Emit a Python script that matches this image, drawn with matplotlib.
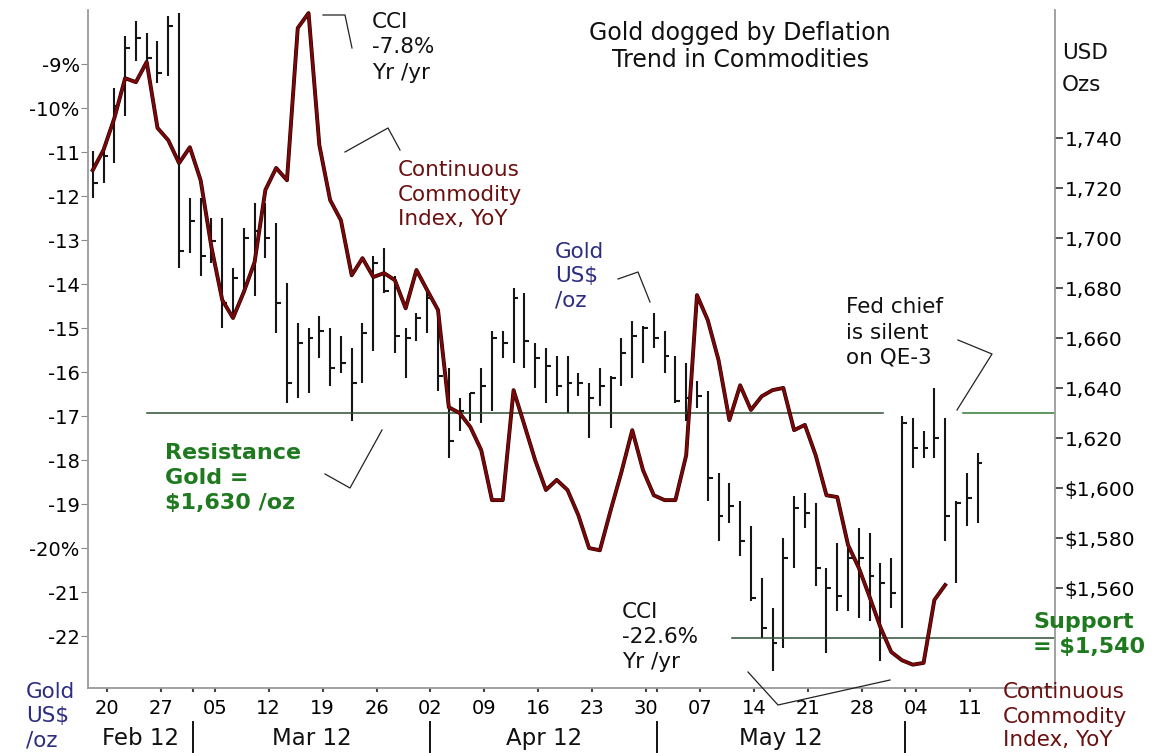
import matplotlib
matplotlib.use('Agg')
import matplotlib.pyplot as plt
import matplotlib.patheffects as pe
from matplotlib.lines import Line2D
from matplotlib.transforms import blended_transform_factory
import numpy as np

# gold bars, one per weekday, day index 0 = Mon Feb 20 2012 (first bar is Feb 17)
gold_high = [1735, 1736, 1760, 1781, 1787, 1782, 1779, 1789, 1790, 1716,
             1716, 1708, 1708, 1688, 1704, 1714, 1714, 1706, 1682, 1666,
             1664, 1669, 1664, 1661, 1656, 1666, 1693, 1696, 1685, 1664,
             1670, 1680, 1672, 1648, 1636, 1638, 1648, 1663, 1663, 1680,
             1678, 1658, 1656, 1653, 1653, 1646, 1642, 1648, 1645, 1660,
             1667, 1665, 1670, 1663, 1653, 1650, 1643, 1639, 1606, 1602,
             1595, 1585, 1564, 1552, 1580, 1597, 1598, 1594, 1568, 1578,
             1576, 1584, 1582, 1570, 1572, 1629, 1628, 1623, 1640, 1628,
             1595, 1606, 1614]
gold_low = [1716, 1722, 1730, 1749, 1771, 1768, 1762, 1765, 1688, 1694,
            1685, 1690, 1664, 1670, 1678, 1677, 1692, 1662, 1634, 1636,
            1638, 1652, 1641, 1646, 1627, 1642, 1655, 1678, 1654, 1644,
            1659, 1662, 1639, 1612, 1623, 1627, 1626, 1631, 1652, 1650,
            1648, 1640, 1634, 1637, 1630, 1637, 1620, 1633, 1624, 1641,
            1644, 1650, 1656, 1646, 1634, 1627, 1632, 1595, 1579, 1586,
            1573, 1555, 1540, 1527, 1536, 1568, 1584, 1561, 1534, 1551,
            1551, 1548, 1547, 1531, 1552, 1544, 1608, 1612, 1612, 1579,
            1562, 1585, 1586]
gold_close = [1722, 1733, 1753, 1776, 1780, 1772, 1766, 1785, 1695, 1707,
              1693, 1699, 1674, 1684, 1700, 1703, 1700, 1674, 1642, 1658,
              1660, 1663, 1648, 1650, 1642, 1662, 1690, 1679, 1661, 1660,
              1668, 1676, 1645, 1619, 1631, 1638, 1641, 1660, 1658, 1676,
              1659, 1652, 1649, 1641, 1642, 1642, 1636, 1641, 1644, 1654,
              1661, 1664, 1660, 1653, 1635, 1636, 1637, 1604, 1589, 1593,
              1579, 1556, 1544, 1538, 1572, 1592, 1590, 1568, 1560, 1557,
              1572, 1572, 1565, 1562, 1558, 1626, 1616, 1616, 1620, 1589,
              1594, 1596, 1610]

# Continuous Commodity Index, % yr/yr
cci = [-11.41, -10.95, -10.23, -9.32, -9.41, -8.95, -10.45, -10.73, -11.25, -10.89,
       -11.64, -13.16, -14.36, -14.77, -14.18, -13.50, -11.86, -11.36, -11.64, -8.18,
       -7.84, -10.84, -12.09, -12.55, -13.80, -13.41, -13.84, -13.75, -13.91, -14.55,
       -13.68, -14.14, -14.59, -16.80, -16.93, -17.25, -17.77, -18.91, -18.91, -16.41,
       -17.20, -18.00, -18.68, -18.45, -18.68, -19.25, -20.00, -20.05, -19.14, -18.27,
       -17.32, -18.23, -18.80, -18.91, -18.91, -17.89, -14.25, -14.82, -15.73, -17.09,
       -16.30, -16.86, -16.55, -16.41, -16.36, -17.32, -17.20, -17.89, -18.80, -18.84,
       -19.93, -20.45, -21.11, -21.80, -22.36, -22.55, -22.65, -22.61, -21.18, -20.84]

week_days = [0, 5, 10, 15, 20, 25, 30, 35, 40, 45, 50, 55, 60, 65, 70, 75, 80]
week_labels = ['20', '27', '05', '12', '19', '26', '02', '09', '16', '23',
               '30', '07', '14', '21', '28', '04', '11']
month_starts = [8, 30, 51, 74]
month_labels = ['Feb 12', 'Mar 12', 'Apr 12', 'May 12']

cci_ticks = list(range(-22, -8))
cci_ticklabels = ['-22', '-21', '-20%', '-19', '-18', '-17', '-16', '-15', '-14',
                  '-13', '-12', '-11', '-10%', '-9%']
gold_ticks = list(range(1560, 1741, 20))
gold_ticklabels = ['$1,560', '$1,580', '$1,600', '1,620', '1,640', '1,660',
                   '1,680', '1,700', '1,720', '1,740']

W, H = 1163, 753
def fx(x): return x / W
def fy(y): return 1 - y / H

plt.rcParams['font.family'] = 'DejaVu Sans'
fig = plt.figure(figsize=(W / 100, H / 100), dpi=100)
ax = fig.add_axes([fx(88), fy(688), (1055 - 88) / W, (688 - 10) / H])
ax2 = ax.twinx()
ax.set_zorder(ax2.get_zorder() + 1)
ax.patch.set_visible(False)

off = 0.3  # tick marks sit a bit right of the bars
gdays = np.arange(-1, -1 + len(gold_high))
ax2.vlines(gdays, gold_low, gold_high, color='#151515', lw=1.5)
ax2.hlines(gold_close, gdays, gdays + 0.45, color='#151515', lw=1.5)

# resistance / support lines
ax2.axhline(1630, xmin=(147 - 88) / 967, xmax=(883 - 88) / 967, color='#2f4f35', lw=1.1)
ax2.axhline(1630, xmin=(963 - 88) / 967, xmax=1, color='#2f7a35', lw=1.1)
ax2.axhline(1540, xmin=(732 - 88) / 967, xmax=1, color='#2f4f35', lw=1.1)

cdays = np.arange(-1, -1 + len(cci))
ax.plot(cdays, cci, color='#7a0808', lw=1.9,
        path_effects=[pe.Stroke(linewidth=2.8, foreground='#2a0000'), pe.Normal()])

ax.set_xlim(-1.44, 88.18)
ax.set_ylim(-23.18, -7.77)
ax2.set_ylim(1520, 1791.2)

for a in (ax, ax2):
    a.spines['top'].set_visible(False)
ax.spines['right'].set_visible(False)
ax2.spines['left'].set_visible(False)
ax2.spines['bottom'].set_visible(False)
ax.spines['left'].set_color('#9a9a9a')
ax.spines['bottom'].set_color('#9a9a9a')
ax2.spines['right'].set_color('#9a9a9a')
for s in (ax.spines['left'], ax.spines['bottom'], ax2.spines['right']):
    s.set_linewidth(1.3)

ax.set_yticks(cci_ticks)
ax.set_yticklabels(cci_ticklabels)
ax.tick_params(axis='y', direction='out', length=5, color='#8a8a8a', labelsize=14, pad=1)
ax2.set_yticks(gold_ticks)
ax2.set_yticklabels(gold_ticklabels)
ax2.tick_params(axis='y', direction='out', length=6, width=1.2, color='#333333',
                labelsize=14.5, pad=1)

ax.set_xticks([d + off for d in week_days])
ax.set_xticklabels(week_labels)
ax.set_xticks([d + off for d in month_starts], minor=True)
ax.tick_params(axis='x', which='both', direction='out', length=3, width=1.5,
               color='#444444', labelsize=14, pad=5)

trans = blended_transform_factory(ax.transData, ax.transAxes)
bounds = [-1.44] + [d + off for d in month_starts]
for i, lab in enumerate(month_labels):
    ax.text((bounds[i] + bounds[i + 1]) / 2, -0.074, lab, transform=trans,
            ha='center', va='center', fontsize=16.5, color='#111111')
for d in month_starts:
    ax.plot([d + off, d + off], [-0.05, -0.1], transform=trans, clip_on=False,
            color='#111111', lw=1.4)


def label(x, ys, lines, color='#111111', size=15.5, weight='normal', ha='left'):
    for yy, t in zip(ys, lines):
        fig.text(fx(x), fy(yy), t, ha=ha, va='center', fontsize=size,
                 color=color, fontweight=weight)


def leader(pts):
    xs = [fx(p[0]) for p in pts]
    ys = [fy(p[1]) for p in pts]
    fig.add_artist(Line2D(xs, ys, transform=fig.transFigure, color='#222222', lw=0.9))


red = '#6b1010'
navy = '#2d2d80'
green = '#1f7a1f'

label(740, [33, 60], ['Gold dogged by Deflation', 'Trend in Commodities'], size=17, ha='center')
label(1062, [53, 85], ['USD', 'Ozs'])
label(372, [22, 47, 73], ['CCI', '-7.8%', 'Yr /yr'])
label(398, [170, 195, 219], ['Continuous', 'Commodity', 'Index, YoY'], color=red)
label(555, [252, 276, 300], ['Gold', 'US$', '/oz'], color=navy)
label(846, [307, 333, 358], ['Fed chief', 'is silent', 'on QE-3'])
label(165, [453, 478, 503], ['Resistance', 'Gold =', '$1,630 /oz'], color=green,
      weight='bold', size=16)
label(1033, [622, 647], ['Support', '= $1,540'], color=green, weight='bold', size=16)
label(622, [612, 637, 662], ['CCI', '-22.6%', 'Yr /yr'])
label(26, [692, 716, 740], ['Gold', 'US$', '/oz'], color=navy)
label(1003, [692, 717, 740], ['Continuous', 'Commodity', 'Index, YoY'], color=red)

leader([(323, 15), (345, 15), (352, 48)])
leader([(345, 152), (388, 128), (400, 150)])
leader([(618, 279), (638, 272), (650, 302)])
leader([(958, 340), (992, 354), (957, 410)])
leader([(325, 474), (350, 488), (382, 430)])
leader([(748, 672), (778, 705), (890, 680)])

fig.savefig('out.png', dpi=100)
